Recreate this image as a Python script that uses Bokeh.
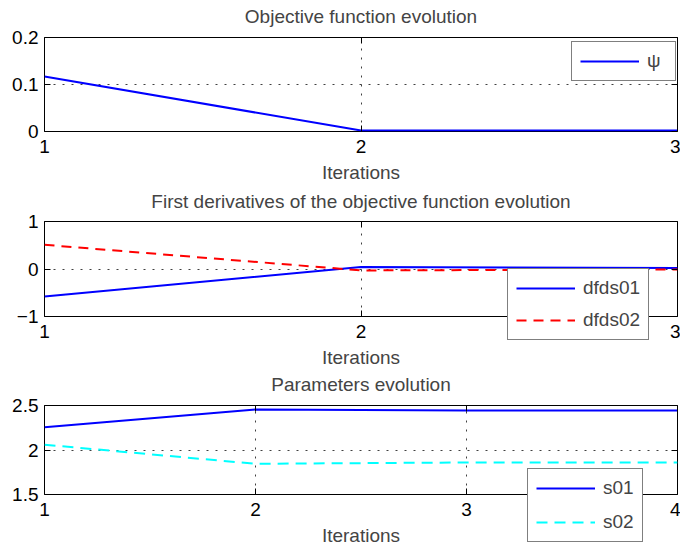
from bokeh.plotting import figure
from bokeh.models import (FixedTicker, CustomJSTickFormatter, CustomLabelingPolicy,
                          Legend, LegendItem, LinearAxis, Range1d, GridBox, Column)
from bokeh.embed import file_html
from bokeh.resources import INLINE

# ---- data -------------------------------------------------------------
obj_iter = [1, 2, 3]
psi = [0.117, 0.002, 0.002]

grad_iter = [1, 2, 3]
dfds01 = [-0.58, 0.04, 0.02]
dfds02 = [0.51, -0.03, -0.01]

par_iter = [1, 2, 3, 4]
s01 = [2.255, 2.455, 2.445, 2.445]
s02 = [2.06, 1.845, 1.86, 1.86]

obj_yticks = [0, 0.1, 0.2]
grad_yticks = [-1, 0, 1]
par_yticks = [1.5, 2, 2.5]

FONT = "Liberation Sans"
FS = "19px"
W, H = 680, 548

fmt = CustomJSTickFormatter(code="""
    const a = Math.abs(tick);
    return (tick < 0 ? '\\u2212' : '') + String(Math.round(a * 1000) / 1000);
""")

# tick marks only, no labels, on the top and right sides of each box
no_labels = CustomLabelingPolicy(code="""
    if (typeof indices.unset === "function") {
        for (let i = 0; i < indices.size; i++) indices.unset(i);
        return indices;
    }
    return [];
""")


def panel(title, xticks, yticks, height, top, bottom, title_gap):
    p = figure(width=W, height=height, output_backend="svg", toolbar_location=None,
               x_range=Range1d(xticks[0], xticks[-1]),
               y_range=Range1d(yticks[0], yticks[-1]),
               min_border_left=44, min_border_right=3,
               min_border_top=top, min_border_bottom=bottom,
               background_fill_color="white", border_fill_color="white",
               outline_line_color="black", outline_line_width=1)

    for ax, ticks in ((p.xaxis[0], xticks), (p.yaxis[0], yticks)):
        ax.ticker = FixedTicker(ticks=ticks)
        ax.formatter = fmt
        ax.major_label_text_font = FONT
        ax.major_label_text_font_size = FS
        ax.major_label_text_color = "black"
        ax.major_tick_in = 6
        ax.major_tick_out = 0
        ax.minor_tick_in = 0
        ax.minor_tick_out = 0
        ax.axis_line_color = None
        ax.major_tick_line_color = "black"
    p.xaxis[0].major_label_standoff = 8
    p.yaxis[0].major_label_standoff = 6
    p.xaxis[0].axis_label = "Iterations"
    p.xaxis[0].axis_label_text_font = FONT
    p.xaxis[0].axis_label_text_font_size = FS
    p.xaxis[0].axis_label_text_font_style = "normal"
    p.xaxis[0].axis_label_standoff = 6

    # box ticks on top and right; the top one also carries the panel heading
    for side, ticks in (("above", xticks), ("right", yticks)):
        ax = LinearAxis(ticker=FixedTicker(ticks=ticks),
                        major_label_policy=no_labels,
                        major_label_text_font_size="0px", major_label_standoff=0,
                        major_tick_in=6, major_tick_out=0,
                        minor_tick_in=0, minor_tick_out=0,
                        axis_line_color=None, major_tick_line_color="black")
        if side == "above":
            ax.axis_label = title
            ax.axis_label_text_font = FONT
            ax.axis_label_text_font_size = FS
            ax.axis_label_text_font_style = "normal"
            ax.axis_label_standoff = title_gap
        p.add_layout(ax, side)

    for g, ticks in ((p.xgrid[0], xticks), (p.ygrid[0], yticks)):
        g.ticker = FixedTicker(ticks=ticks)
        g.grid_line_color = "black"
        g.grid_line_alpha = 0.75
        g.grid_line_dash = "2 7"
        g.grid_line_width = 1
    return p


def make_legend(items, loc, spacing):
    return Legend(items=items, location=loc, orientation="vertical",
                  label_text_font=FONT, label_text_font_size=FS,
                  glyph_width=59, glyph_height=18, label_height=18,
                  label_standoff=8, padding=8, spacing=spacing, margin=0,
                  border_line_color="black", border_line_width=1,
                  background_fill_color="white", background_fill_alpha=1.0)


# Objective function
p1 = panel("Objective function evolution", obj_iter, obj_yticks, 185, 37, 54, 11)
r_psi = p1.line(obj_iter, psi, line_color="blue", line_width=2)
p1.add_layout(make_legend([LegendItem(label="\u03c8", renderers=[r_psi])], (527, 50), 0),
              "center")

# First derivatives
p2 = panel("First derivatives of the objective function evolution",
           grad_iter, grad_yticks, 185, 36, 54, 10)
p2.line(grad_iter, dfds01, line_color="blue", line_width=2)
p2.line(grad_iter, dfds02, line_color="red", line_width=2, line_dash="10 7")

# Parameters
p3 = panel("Parameters evolution", par_iter, par_yticks, 178, 35, 50, 11)
p3.line(par_iter, s01, line_color="blue", line_width=2)
p3.line(par_iter, s02, line_color="cyan", line_width=2, line_dash="11 7")

# Transparent layer on top of the stack, holding the legends of the lower two
# panels so that their boxes may hang over the axes below each box.
ov = figure(width=W, height=H, output_backend="svg", toolbar_location=None,
            x_range=Range1d(0, W), y_range=Range1d(0, H),
            x_axis_type=None, y_axis_type=None,
            min_border_left=0, min_border_right=0, min_border_top=0, min_border_bottom=0,
            background_fill_alpha=0, border_fill_alpha=0, outline_line_color=None)
ov.grid.visible = False
k_d1 = ov.line(grad_iter, dfds01, line_color="blue", line_width=2, visible=False)
k_d2 = ov.line(grad_iter, dfds02, line_color="red", line_width=2, line_dash="10 7",
               visible=False)
k_s1 = ov.line(par_iter, s01, line_color="blue", line_width=2, visible=False)
k_s2 = ov.line(par_iter, s02, line_color="cyan", line_width=2, line_dash="11 7",
               visible=False)
ov.add_layout(make_legend([LegendItem(label="dfds01", renderers=[k_d1]),
                           LegendItem(label="dfds02", renderers=[k_d2])], (507, 208), 10),
              "center")
ov.add_layout(make_legend([LegendItem(label="s01", renderers=[k_s1]),
                           LegendItem(label="s02", renderers=[k_s2])], (527, 6), 12),
              "center")

layout = GridBox(children=[(p1, 0, 0), (p2, 1, 0), (p3, 2, 0),
                           (Column(children=[ov]), 0, 0, 3, 1)])
open("out.html", "w").write(file_html(layout, INLINE))
